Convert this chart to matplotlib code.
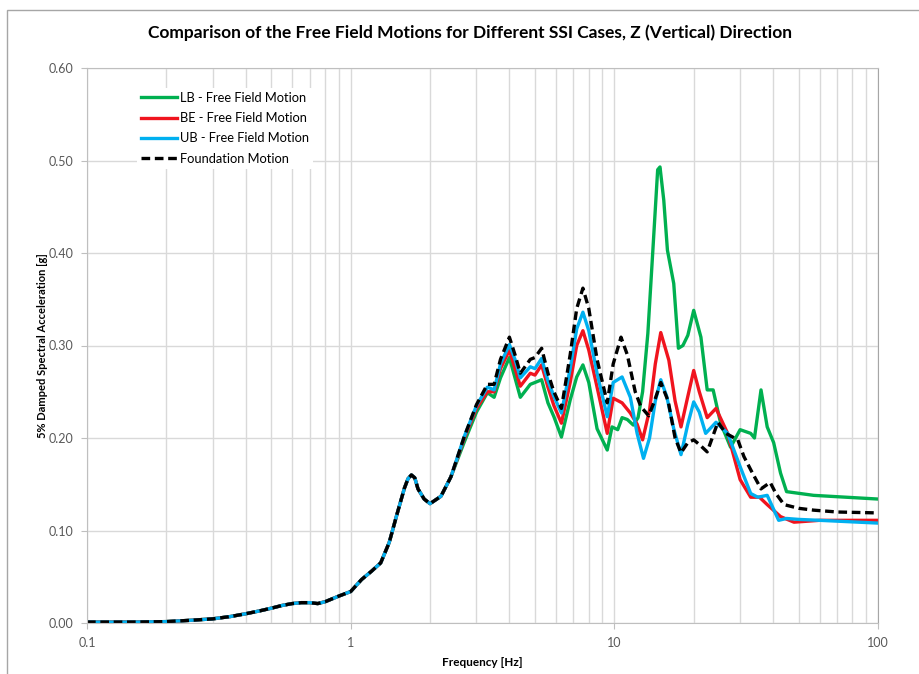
import matplotlib
matplotlib.use("Agg")
import matplotlib.pyplot as plt
from matplotlib.patches import Rectangle
from matplotlib.ticker import FixedLocator, NullFormatter

# shared low-frequency branch (all cases coincide below ~2.5 Hz)
low_freq = [0.1, 0.15, 0.2, 0.25, 0.3, 0.35, 0.4, 0.45, 0.5, 0.55, 0.6, 0.65,
            0.7, 0.75, 0.8, 0.9, 1.0, 1.1, 1.2, 1.3, 1.4, 1.5, 1.6, 1.65, 1.7,
            1.75, 1.8, 1.9, 2.0, 2.2, 2.4]
low_accel = [0.001, 0.001, 0.0015, 0.003, 0.0045, 0.007, 0.010, 0.013, 0.016,
             0.019, 0.021, 0.022, 0.022, 0.021, 0.023, 0.029, 0.034, 0.047,
             0.056, 0.065, 0.087, 0.118, 0.146, 0.156, 0.160, 0.157, 0.145,
             0.134, 0.129, 0.137, 0.158]

lb_freq = [2.7, 3.0, 3.3, 3.5, 3.7, 4.0, 4.2, 4.4, 4.8, 5.0, 5.3, 5.6, 5.9, 6.3,
           6.8, 7.2, 7.6, 8.0, 8.6, 9.4, 9.8, 10.3, 10.7, 11.2, 11.8, 12.3,
           12.8, 13.4, 14.0, 14.6, 14.9, 15.4, 15.9, 16.8, 17.5, 18.2, 19.0,
           20.0, 21.3, 22.5, 23.7, 25.3, 27.6, 30.0, 32.9, 34.0, 36.0, 38.0,
           40.2, 42.7, 45.0, 57.0, 100.0]
lb_accel = [0.196, 0.228, 0.249, 0.244, 0.265, 0.287, 0.265, 0.244, 0.258,
            0.260, 0.263, 0.238, 0.223, 0.201, 0.241, 0.266, 0.279, 0.260,
            0.210, 0.187, 0.212, 0.209, 0.222, 0.220, 0.214, 0.222, 0.250,
            0.313, 0.403, 0.490, 0.493, 0.457, 0.403, 0.367, 0.297, 0.300,
            0.311, 0.338, 0.309, 0.252, 0.252, 0.216, 0.190, 0.209, 0.205,
            0.200, 0.252, 0.212, 0.195, 0.162, 0.142, 0.138, 0.134]

be_freq = [2.7, 3.0, 3.3, 3.5, 3.7, 4.0, 4.2, 4.4, 4.8, 5.0, 5.3, 5.6, 5.9, 6.3,
           6.8, 7.2, 7.6, 8.0, 8.6, 9.4, 9.9, 10.7, 11.5, 12.2, 12.8, 13.6,
           14.3, 15.0, 16.1, 17.0, 17.9, 19.0, 20.0, 21.0, 22.5, 24.3, 26.9,
           30.0, 32.9, 35.5, 38.0, 42.7, 48.0, 60.0, 100.0]
be_accel = [0.200, 0.232, 0.250, 0.250, 0.275, 0.295, 0.275, 0.256, 0.270,
            0.268, 0.279, 0.255, 0.235, 0.216, 0.260, 0.300, 0.316, 0.295,
            0.255, 0.205, 0.243, 0.238, 0.227, 0.215, 0.198, 0.230, 0.280,
            0.314, 0.284, 0.240, 0.212, 0.245, 0.273, 0.250, 0.222, 0.232,
            0.205, 0.155, 0.136, 0.136, 0.128, 0.115, 0.109, 0.111, 0.111]

ub_freq = [2.7, 3.0, 3.3, 3.5, 3.7, 4.0, 4.2, 4.4, 4.8, 5.0, 5.3, 5.6, 5.9, 6.3,
           6.8, 7.2, 7.6, 8.0, 8.6, 9.4, 9.9, 10.7, 11.5, 12.2, 12.9, 13.6,
           14.3, 15.0, 15.8, 16.8, 17.9, 19.0, 20.0, 21.0, 22.2, 24.3, 26.9,
           30.0, 32.9, 35.0, 38.0, 42.0, 45.0, 50.0, 60.0, 100.0]
ub_accel = [0.202, 0.235, 0.255, 0.252, 0.280, 0.301, 0.285, 0.265, 0.277,
            0.275, 0.286, 0.262, 0.245, 0.227, 0.275, 0.318, 0.336, 0.316,
            0.270, 0.223, 0.260, 0.266, 0.244, 0.205, 0.178, 0.200, 0.240,
            0.263, 0.245, 0.210, 0.182, 0.215, 0.239, 0.228, 0.205, 0.217,
            0.205, 0.169, 0.140, 0.136, 0.138, 0.111, 0.113, 0.112, 0.111,
            0.108]

fm_freq = [2.7, 3.0, 3.3, 3.5, 3.7, 4.0, 4.2, 4.4, 4.8, 5.0, 5.3, 5.6, 5.9, 6.3,
           6.8, 7.2, 7.6, 8.0, 8.6, 9.4, 9.9, 10.6, 11.2, 12.0, 12.6, 13.5,
           14.2, 15.0, 16.0, 17.0, 17.9, 19.0, 20.0, 21.0, 22.5, 24.7, 26.5,
           29.4, 31.0, 33.0, 36.0, 39.0, 41.0, 44.0, 50.0, 57.0, 70.0, 100.0]
fm_accel = [0.202, 0.236, 0.258, 0.258, 0.285, 0.309, 0.290, 0.270, 0.285,
            0.287, 0.297, 0.270, 0.250, 0.232, 0.290, 0.340, 0.362, 0.340,
            0.285, 0.238, 0.280, 0.309, 0.290, 0.250, 0.234, 0.224, 0.240,
            0.260, 0.240, 0.200, 0.184, 0.195, 0.198, 0.193, 0.185, 0.217,
            0.205, 0.198, 0.180, 0.165, 0.145, 0.152, 0.140, 0.128, 0.124,
            0.122, 0.120, 0.119]

series = [
    ("LB - Free Field Motion", lb_freq, lb_accel, "#00B050", "-"),
    ("BE - Free Field Motion", be_freq, be_accel, "#F0141E", "-"),
    ("UB - Free Field Motion", ub_freq, ub_accel, "#00B0F0", "-"),
    ("Foundation Motion", fm_freq, fm_accel, "black", (0, (2.6, 1.4))),
]

plt.rcParams["font.family"] = ["Lato", "DejaVu Sans"]
grid_c = "#d9d9d9"
text_c = "#595959"

fig = plt.figure(figsize=(9.19, 6.74), dpi=100)
# chart-area border, open to the right and bottom
fig.patches.append(Rectangle((7 / 919, -0.05), 1.0, 1 - 10 / 674 + 0.05,
                             transform=fig.transFigure, fill=False,
                             edgecolor="#a6a6a6", linewidth=1.0))
ax = fig.add_axes([87 / 919, 1 - 623 / 674, 791 / 919, 555 / 674])

for label, f, a, color, ls in series:
    ax.plot(low_freq + f, low_accel + a, color=color, linestyle=ls,
            linewidth=2.4, label=label, solid_joinstyle="round")

ax.set_xscale("log")
ax.set_xlim(0.1, 100)
ax.set_ylim(0, 0.6)
ax.set_yticks([0.0, 0.1, 0.2, 0.3, 0.4, 0.5, 0.6])
ax.set_yticklabels([f"{v:.2f}" for v in ax.get_yticks()])
ax.set_xticks([0.1, 1, 10, 100])
ax.set_xticklabels(["0.1", "1", "10", "100"])
minors = [m * d for d in (0.1, 1, 10) for m in range(2, 10)]
ax.xaxis.set_minor_locator(FixedLocator(minors))
ax.xaxis.set_minor_formatter(NullFormatter())
ax.grid(True, which="major", color=grid_c, linewidth=1.0)
ax.grid(True, which="minor", axis="x", color=grid_c, linewidth=1.0)
ax.set_axisbelow(True)
for s in ax.spines.values():
    s.set_color("#bfbfbf")
ax.spines["right"].set_color("#a6a6a6")
ax.tick_params(axis="both", which="major", labelsize=9, colors=text_c,
               length=4, color="#bfbfbf", pad=6)
ax.tick_params(axis="x", which="minor", length=0)

fig.text(470 / 919, 1 - 33 / 674,
         "Comparison of the Free Field Motions for Different SSI Cases, Z (Vertical) Direction",
         ha="center", va="center", fontsize=12.5, fontweight="bold", color="black")
ax.set_xlabel("Frequency [Hz]", fontsize=8.5, fontweight="bold", labelpad=6)
ax.set_ylabel("5% Damped Spectral Acceleration [g]", fontsize=8, fontweight="bold",
              labelpad=0)

leg = ax.legend(loc="upper left", bbox_to_anchor=(0.055, 0.976), frameon=True,
                fontsize=9.3, handlelength=2.8, handletextpad=0.25,
                labelspacing=0.65, borderpad=0.3)
leg.get_frame().set_edgecolor("none")
leg.get_frame().set_facecolor("white")
leg.get_frame().set_alpha(1.0)

fig.savefig("out.png", dpi=100)
